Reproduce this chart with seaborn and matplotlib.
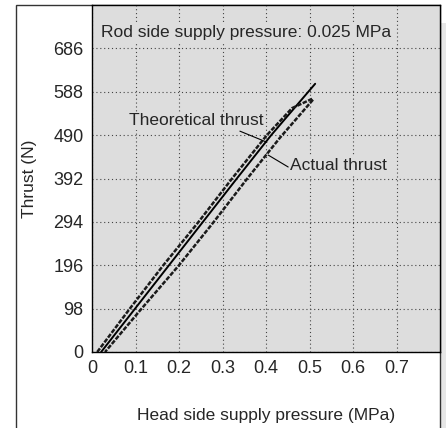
import seaborn as sns
import matplotlib
matplotlib.use("Agg")
import matplotlib.pyplot as plt
import pandas as pd
from matplotlib.patches import Rectangle

# values
theory_p = [0.021, 0.099, 0.177, 0.255, 0.333, 0.412, 0.513]
theory_f = [0, 98, 196, 294, 392, 490, 606]

actual_up_p = [0.012, 0.087, 0.164, 0.245, 0.322, 0.402, 0.460, 0.506]
actual_up_f = [0, 98, 196, 294, 392, 490, 551, 572]
actual_down_p = [0.508, 0.432, 0.357, 0.280, 0.200, 0.114, 0.030]
actual_down_f = [570, 484, 392, 294, 196, 98, 0]

x_ticks = [0, 0.1, 0.2, 0.3, 0.4, 0.5, 0.6, 0.7]
x_labels = ["0", "0.1", "0.2", "0.3", "0.4", "0.5", "0.6", "0.7"]
y_ticks = [0, 98, 196, 294, 392, 490, 588, 686]

sns.set_style("white")
plt.rcParams["font.family"] = ["Liberation Sans", "DejaVu Sans"]

fig = plt.figure(figsize=(4.46, 4.28), dpi=100)
W, H = 446, 428

# outer frame and right-side light strip
fig.add_artist(Rectangle((441 / W, 0), 5 / W, 1 - 23 / H, transform=fig.transFigure,
                         facecolor="#e6e6e6", edgecolor="none", zorder=-10))
fig.add_artist(Rectangle((16 / W, -0.05), (440 - 16) / W, 1.05 - 5 / H,
                         transform=fig.transFigure, facecolor="white",
                         edgecolor="#333333", linewidth=1.0, zorder=-10))

ax = fig.add_axes([92 / W, 1 - 352 / H, (440 - 92) / W, (352 - 5) / H])
ax.set_facecolor("#dddddd")

df_t = pd.DataFrame({"p": theory_p, "f": theory_f})
df_u = pd.DataFrame({"p": actual_up_p, "f": actual_up_f})
df_d = pd.DataFrame({"p": actual_down_p, "f": actual_down_f})

sns.lineplot(data=df_t, x="p", y="f", ax=ax, color="black", linewidth=1.4, sort=False)
sns.lineplot(data=df_u, x="p", y="f", ax=ax, color="#1a1a1a", linewidth=1.8,
             linestyle=(0, (1.8, 0.6)), sort=False)
sns.lineplot(data=df_d, x="p", y="f", ax=ax, color="#1a1a1a", linewidth=1.8,
             linestyle=(0, (1.8, 0.6)), sort=False)

ax.set_xlim(0, 0.8)
ax.set_ylim(0, 784)
ax.set_xticks(x_ticks)
ax.set_xticklabels(x_labels)
ax.set_yticks(y_ticks)
ax.tick_params(length=0, labelsize=13, pad=6)
ax.grid(True, color="#444444", linestyle=(0, (1, 2.5)), linewidth=0.8)
for s in ax.spines.values():
    s.set_color("black")
    s.set_linewidth(1.0)

ax.set_xlabel("Head side supply pressure (MPa)", fontsize=12.5, labelpad=22)
ax.set_ylabel("Thrust (N)", fontsize=12.5, labelpad=12)

box = dict(facecolor="#dddddd", edgecolor="none", pad=1)
ax.text(0.021, 721, "Rod side supply pressure: 0.025 MPa", fontsize=12.5,
        va="center", bbox=box, zorder=5)
ax.text(0.239, 522, "Theoretical thrust", fontsize=12.5, ha="center", va="center",
        bbox=box, zorder=5)
ax.plot([0.340, 0.402], [499, 474], color="black", linewidth=0.8)
ax.text(0.455, 422, "Actual thrust", fontsize=12.5, ha="left", va="center",
        bbox=box, zorder=5)
ax.plot([0.405, 0.451], [445, 418], color="black", linewidth=0.8)

fig.savefig("out.png", dpi=100)
